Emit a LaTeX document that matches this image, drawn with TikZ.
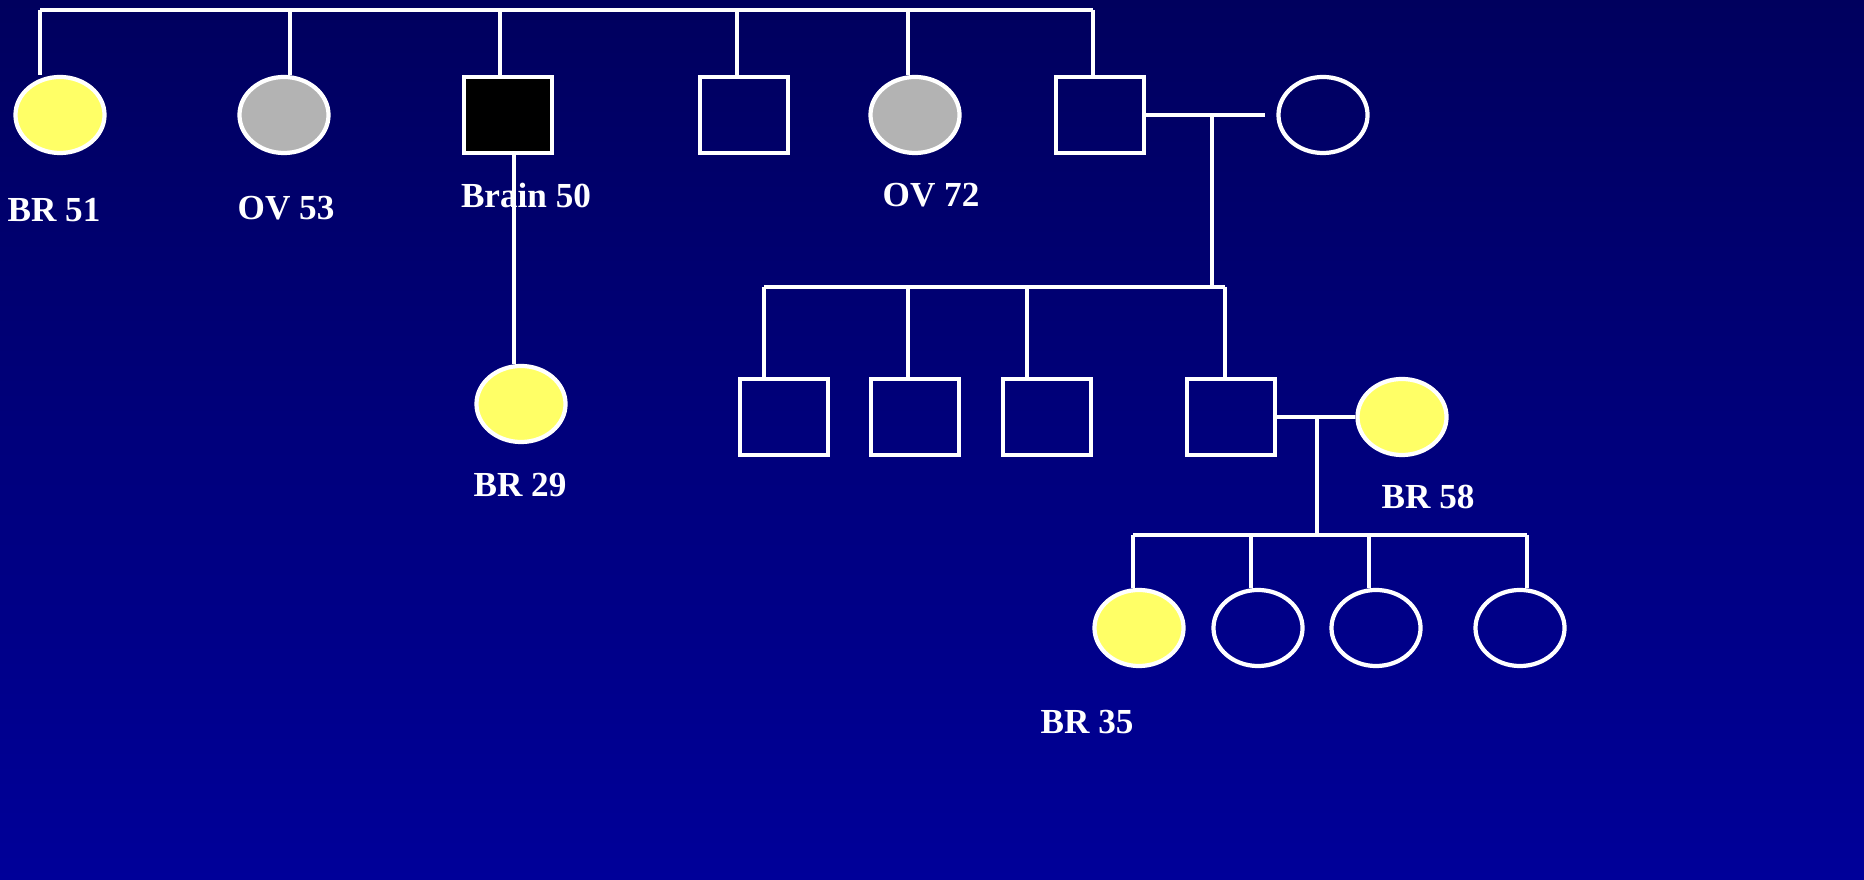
\documentclass[tikz,border=0pt]{standalone}
\usepackage{fontspec}
\setmainfont{Liberation Serif}
\usetikzlibrary{positioning}
\usetikzlibrary{shapes.geometric}
\definecolor{affyellow}{HTML}{FFFF66}
\definecolor{affgray}{HTML}{B3B3B3}
\definecolor{bgtop}{HTML}{00005E}
\definecolor{bgbottom}{HTML}{000099}
\tikzset{
female/.style={ellipse,draw=white,line width=1.2pt,minimum width=0.89cm,minimum height=0.76cm,inner sep=0pt},
male/.style={rectangle,draw=white,line width=1.2pt,minimum width=0.88cm,minimum height=0.76cm,inner sep=0pt},
lbl/.style={font=\bfseries\fontsize{10}{12}\selectfont,text=white,inner sep=0pt},
link/.style={draw=white,line width=1.2pt}
}
\begin{document}
\begin{tikzpicture}[x=0.01cm,y=-0.01cm]
\useasboundingbox (0,0) rectangle (1864,880);
\shade[top color=bgtop,bottom color=bgbottom] (0,0) rectangle (1864,880);

\node[female,fill=affyellow] (F1) at (60,115) {};
\node[female,fill=affgray] (F2) at (284,115) {};
\node[male,fill=black] (M3) at (508,115) {};
\node[male] (M4) at (744,115) {};
\node[female,fill=affgray] (F5) at (915,115) {};
\node[male] (M6) at (1100,115) {};
\node[female] (F7) at (1323,115) {};
\node[female,fill=affyellow] (F8) at (521,404) {};
\node[male] (M9) at (784,417) {};
\node[male] (M10) at (915,417) {};
\node[male] (M11) at (1047,417) {};
\node[male] (M12) at (1231,417) {};
\node[female,fill=affyellow] (F13) at (1402,417) {};
\node[female,fill=affyellow] (F14) at (1139,628) {};
\node[female] (F15) at (1258,628) {};
\node[female] (F16) at (1376,628) {};
\node[female] (F17) at (1520,628) {};

\coordinate (sib1l) at (40,10);
\coordinate (sib1r) at (1093,10);
\coordinate (s1b) at (290,10);
\coordinate (s1c) at (500,10);
\coordinate (s1d) at (737,10);
\coordinate (s1e) at (908,10);
\draw[link] (sib1l) -- (sib1r);
\draw[link] (sib1l) -- (sib1l |- F1.north);
\draw[link] (s1b) -- (s1b |- F2.north);
\draw[link] (s1c) -- (s1c |- M3.north);
\draw[link] (s1d) -- (s1d |- M4.north);
\draw[link] (s1e) -- (s1e |- F5.north);
\draw[link] (sib1r) -- (sib1r |- M6.north);

\coordinate (brainx) at (514,0);
\draw[link] (M3.south -| brainx) -- (F8.north -| brainx);

\coordinate (sp1end) at (1265,115);
\coordinate (c1) at (1212,115);
\draw[link] (M6.east) -- (sp1end);
\coordinate (sib2l) at (764,287);
\coordinate (sib2r) at (1225,287);
\coordinate (s2b) at (908,287);
\coordinate (s2c) at (1027,287);
\draw[link] (c1) -- (c1 |- sib2l);
\draw[link] (sib2l) -- (sib2r);
\draw[link] (sib2l) -- (sib2l |- M9.north);
\draw[link] (s2b) -- (s2b |- M10.north);
\draw[link] (s2c) -- (s2c |- M11.north);
\draw[link] (sib2r) -- (sib2r |- M12.north);

\coordinate (c2) at (1317,417);
\draw[link] (M12.east) -- (F13.west);
\coordinate (sib3l) at (1133,535);
\coordinate (sib3r) at (1527,535);
\coordinate (s3b) at (1251,535);
\coordinate (s3c) at (1369,535);
\draw[link] (c2) -- (c2 |- sib3l);
\draw[link] (sib3l) -- (sib3r);
\draw[link] (sib3l) -- (sib3l |- F14.north);
\draw[link] (s3b) -- (s3b |- F15.north);
\draw[link] (s3c) -- (s3c |- F16.north);
\draw[link] (sib3r) -- (sib3r |- F17.north);

\node[lbl] (l1) at (54,210) {BR 51};
\node[lbl] (l2) at (286,208) {OV 53};
\node[lbl] (l3) at (526,195) {Brain 50};
\node[lbl] (l5) at (931,195) {OV 72};
\node[lbl] (l8) at (520,485) {BR 29};
\node[lbl] (l13) at (1428,497) {BR 58};
\node[lbl] (l14) at (1087,722) {BR 35};
\end{tikzpicture}
\end{document}
